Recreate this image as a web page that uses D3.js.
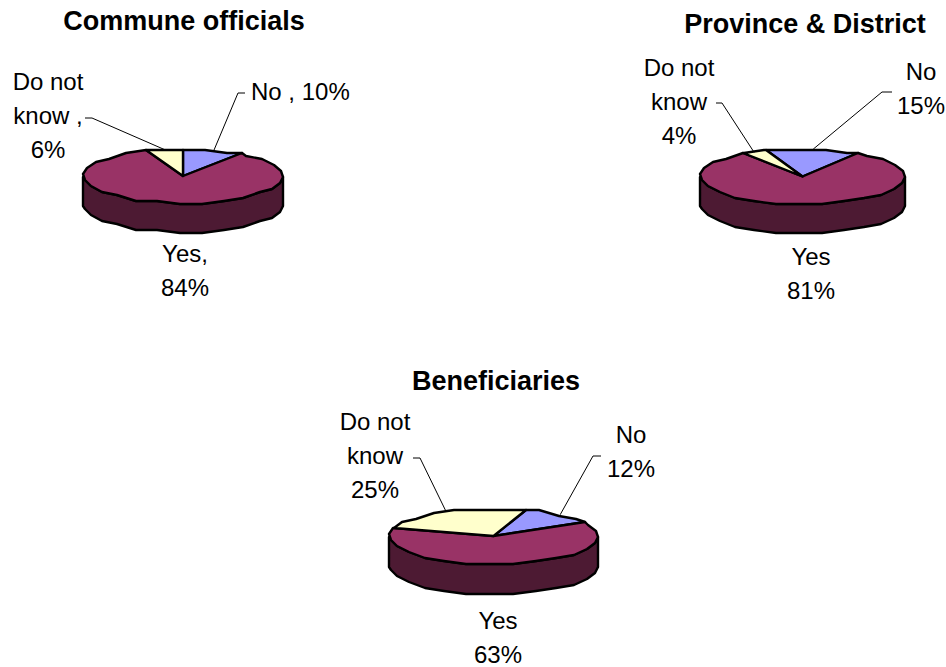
<!DOCTYPE html>
<html>
<head>
<meta charset="utf-8">
<style>
html,body{margin:0;padding:0;background:#fff;}
svg{display:block;}
text{font-family:"Liberation Sans",Arial,sans-serif;fill:#000;}
</style>
<script src="https://cdn.jsdelivr.net/npm/d3@7"></script>
</head>
<body>
<svg id="chart" width="946" height="667"></svg>
<script>
// Data
const categories = ["No", "Yes", "Do not know"];
const titles = ["Commune officials", "Province & District", "Beneficiaries"];
const communeValues = [10, 84, 6];
const provinceValues = [15, 81, 4];
const beneficiaryValues = [12, 63, 25];
const communeLabels = [["No , 10%"], ["Yes,", "84%"], ["Do not", "know ,", "6%"]];
const provinceLabels = [["No", "15%"], ["Yes", "81%"], ["Do not", "know", "4%"]];
const beneficiaryLabels = [["No", "12%"], ["Yes", "63%"], ["Do not", "know", "25%"]];

const colors = d3.scaleOrdinal().domain(categories).range(["#9999ff", "#993366", "#ffffcc"]);
const sideColor = "#4d1a33";
const fontSize = 24, titleSize = 27, lineStep = 34;

// Layout of each small pie
const layouts = [
  { values: communeValues, labels: communeLabels, title: titles[0], titleX: 184, titleY: 30,
    cx: 183, cy: 176, rx: 100, ry: 27, depth: 29, start: 0,
    anchors: [[251, 100, "start"], [185, 262, "middle"], [48, 90, "middle"]],
    elbows: [[245, 93, 238, 93], null, [85, 118, 92, 118]] },
  { values: provinceValues, labels: provinceLabels, title: titles[1], titleX: 805, titleY: 33,
    cx: 802.5, cy: 176.5, rx: 102.5, ry: 27.5, depth: 29, start: -21,
    anchors: [[921, 80, "middle"], [811, 265, "middle"], [679, 76, "middle"]],
    elbows: [[892, 92, 882, 92], null, [716, 103, 722, 103]] },
  { values: beneficiaryValues, labels: beneficiaryLabels, title: titles[2], titleX: 496, titleY: 390,
    cx: 493.5, cy: 536, rx: 104.5, ry: 27.5, depth: 30, start: 18,
    anchors: [[631, 443, "middle"], [498, 629, "middle"], [375, 430, "middle"]],
    elbows: [[601, 456, 593, 456], null, [413, 458, 420, 458]] }
];

const svg = d3.select("#chart");
const deg = Math.PI / 180;
const STEP = 13 * deg;   // coarse sampling: the original rim is a lumpy polygon
const GRID = 3;          // rim points snap to a coarse vertical grid, as in the low-res original

function sampleAngles(a0, a1) {
  // sample on a shared angular grid so neighbouring slices share the same rim points
  const k0 = Math.ceil(a0 / STEP + 1e-6), k1 = Math.floor(a1 / STEP - 1e-6);
  const out = [a0];
  for (let k = k0; k <= k1; k++) out.push(k * STEP);
  out.push(a1);
  return out;
}

layouts.forEach(c => {
  const g = svg.append("g");
  const x = d3.scaleLinear().domain([-1, 1]).range([c.cx - c.rx, c.cx + c.rx]);
  const y = d3.scaleLinear().domain([-1, 1]).range([c.cy - c.ry, c.cy + c.ry]);
  const px = a => Math.round(x(Math.sin(a)));
  const py = (a, d = 0) => Math.round(y(-Math.cos(a)) / GRID) * GRID + d;
  const line = d3.line().x(d => d[0]).y(d => d[1]);

  const pie = d3.pie().sort(null).value(d => d)
    .startAngle(c.start * deg).endAngle(c.start * deg + 2 * Math.PI);
  const slices = pie(c.values);

  // side wall (front half of rim)
  const front = sampleAngles(90 * deg, 270 * deg);
  const sidePts = front.map(a => [px(a), py(a)])
    .concat(front.slice().reverse().map(a => [px(a), py(a, c.depth)]));
  g.append("path").attr("d", line(sidePts) + "Z")
    .attr("fill", sideColor).attr("stroke", "#000").attr("stroke-width", 2.4).attr("stroke-linejoin", "round");

  // top faces
  g.selectAll("path.slice").data(slices).enter().append("path")
    .attr("class", "slice")
    .attr("d", d => {
      const pts = sampleAngles(d.startAngle, d.endAngle).map(a => [px(a), py(a)]);
      return line([[x(0), y(0)]].concat(pts)) + "Z";
    })
    .attr("fill", (d, i) => colors(categories[i]))
    .attr("stroke", "#000").attr("stroke-width", 2.4).attr("stroke-linejoin", "round");

  // leader lines
  slices.forEach((d, i) => {
    if (!c.elbows[i]) return;
    const mid = (d.startAngle + d.endAngle) / 2;
    const e = c.elbows[i];
    g.append("path")
      .attr("d", line([[e[0], e[1]], [e[2], e[3]], [x(Math.sin(mid)), y(-Math.cos(mid))]]))
      .attr("fill", "none").attr("stroke", "#000").attr("stroke-width", 1);
  });

  // labels
  c.labels.forEach((lines, i) => {
    const a = c.anchors[i];
    lines.forEach((t, k) => {
      g.append("text").attr("x", a[0]).attr("y", a[1] + k * lineStep)
        .attr("text-anchor", a[2]).attr("font-size", fontSize).text(t);
    });
  });

  // title
  g.append("text").attr("x", c.titleX).attr("y", c.titleY)
    .attr("text-anchor", "middle").attr("font-size", titleSize).attr("font-weight", "bold").text(c.title);
});
</script>
</body>
</html>
